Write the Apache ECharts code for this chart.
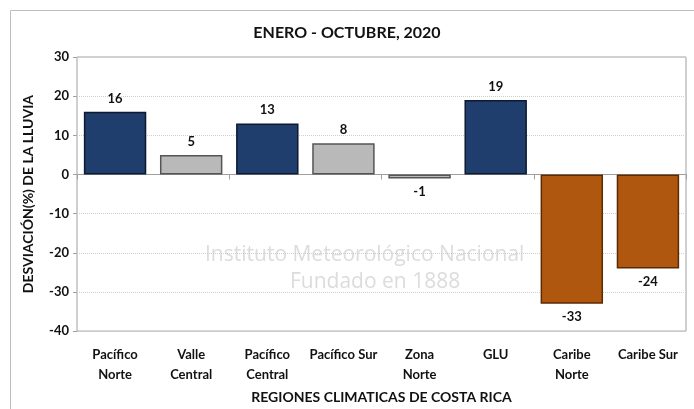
<!DOCTYPE html>
<html><head><meta charset="utf-8">
<script src="https://cdn.jsdelivr.net/npm/echarts@6/dist/echarts.min.js"></script>
<style>html,body{margin:0;padding:0;background:#fff}#c{width:694px;height:409px}</style>
</head><body><div id="c"></div>
<script>
const categories = ['Pacífico\nNorte','Valle\nCentral','Pacífico\nCentral','Pacífico Sur','Zona\nNorte','GLU','Caribe\nNorte','Caribe Sur'];
const values = [16, 5, 13, 8, -1, 19, -33, -24];
const barColors = ['#1f3d6d','#b9b9b9','#1f3d6d','#b9b9b9','#b9b9b9','#1f3d6d','#b0570f','#b0570f'];
const borderColors = ['#0d1a30','#555555','#0d1a30','#555555','#555555','#0d1a30','#5a2a05','#5a2a05'];
const yTicks = [-40, -30, -20, -10, 0, 10, 20, 30];
const FONT = 'Lato, sans-serif';

const chart = echarts.init(document.getElementById('c'));
chart.setOption({
  animation: false,
  backgroundColor: '#fff',
  textStyle: { fontFamily: FONT },
  title: { text: 'ENERO - OCTUBRE, 2020', left: 'center', top: 20, textStyle: { fontFamily: FONT, fontSize: 16, fontWeight: 'bold', color: '#111' } },
  graphic: [
    { type: 'rect', shape: { x: 10.5, y: 10.5, width: 700, height: 420 }, style: { fill: 'none', stroke: '#bdbdbd', lineWidth: 1 }, silent: true, z: -10 },
    { type: 'text', left: 205, top: 245, z: 0, style: { text: 'Instituto Meteorológico Nacional', font: '21px "Open Sans", sans-serif', fill: '#dcdcdc' } },
    { type: 'text', left: 290, top: 272, z: 0, style: { text: 'Fundado en 1888', font: '21px "Open Sans", sans-serif', fill: '#dcdcdc' } }
  ],
  grid: { left: 77, right: 8, top: 57, bottom: 76, show: true, borderColor: '#a0a0a0', borderWidth: 1, backgroundColor: 'transparent' },
  xAxis: [{
    type: 'category', data: categories, position: 'bottom',
    axisLine: { onZero: false, show: false }, axisTick: { show: false },
    axisLabel: { interval: 0, fontFamily: FONT, fontWeight: 'bold', fontSize: 13, color: '#111', lineHeight: 20, margin: 14 },
    name: 'REGIONES CLIMATICAS DE COSTA RICA', nameLocation: 'middle', nameGap: 56,
    nameTextStyle: { fontFamily: FONT, fontWeight: 'bold', fontSize: 14, color: '#111' }
  }, {
    type: 'category', data: categories, position: 'bottom',
    axisLine: { onZero: true, show: true, lineStyle: { color: '#a0a0a0' } },
    axisTick: { show: true, lineStyle: { color: '#a0a0a0' } }, axisLabel: { show: false }
  }],
  yAxis: {
    type: 'value', min: -40, max: 30, interval: 10,
    axisLine: { show: false }, axisTick: { show: true, length: 4, lineStyle: { color: '#a0a0a0' } },
    axisLabel: { fontFamily: FONT, fontWeight: 'bold', fontSize: 13, color: '#111', margin: 8 },
    splitLine: { show: true, lineStyle: { color: '#cfcfcf', type: 'dotted' } },
    name: 'DESVIACIÓN(%) DE LA LLUVIA', nameLocation: 'middle', nameGap: 42, nameRotate: 90,
    nameTextStyle: { fontFamily: FONT, fontWeight: 'bold', fontSize: 14, color: '#111' }
  },
  series: [{
    type: 'bar', xAxisIndex: 0, barWidth: '82%',
    data: values.map((v, i) => ({
      value: v,
      itemStyle: { color: barColors[i], borderColor: borderColors[i], borderWidth: 1.5 },
      label: { show: true, position: v < 0 ? 'bottom' : 'top', distance: 7, formatter: String(v), fontFamily: FONT, fontWeight: 'bold', fontSize: 13, color: '#111' }
    })),
    z: 3
  }]
});
</script></body></html>
